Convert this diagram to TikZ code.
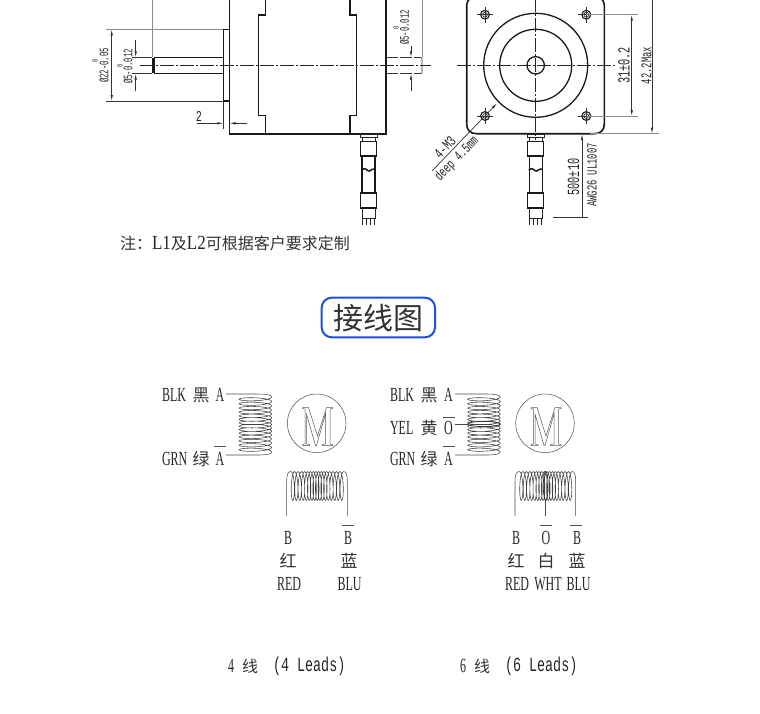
\documentclass[tikz,border=0pt]{standalone}
\usepackage{fontspec}
\usepackage{graphicx}
\setmainfont{Liberation Mono}
\newfontfamily\cjk{Noto Sans CJK SC}
\newfontfamily\latserif{Liberation Serif}
\usetikzlibrary{arrows.meta}
\newcommand{\sq}[3]{\scalebox{#1}[1]{\fontsize{#2}{#2}\selectfont #3}}
\newcommand{\lat}[1]{\scalebox{.6}[1]{\fontsize{20}{20}\selectfont\latserif #1}}
\newcommand{\han}[2][17]{{\fontsize{#1}{#1}\selectfont\cjk\color{black!80}#2}}
\newcommand{\hcoil}[6]{% vertical stack of horizontal loops: cx, rx, ytop, ybot, turns, r
  \draw[coilline] plot[smooth,domain=0:#5,samples=#5*16+1,variable=\t]
   ({#1+#2*cos(\t*360)},{#3+(#4-#3)*(\t/#5+.025*sin(360*\t/#5))+#6*sin(\t*360)});}
\newcommand{\vcoil}[6]{% row of vertical loops: cy, ry, xleft, xright, turns, r
  \draw[coilline] plot[smooth,domain=0:#5,samples=#5*16+1,variable=\t]
   ({#3+(#4-#3)*(\t/#5+.025*sin(360*\t/#5))+#6*sin(\t*360)},{#1-#2*cos(\t*360)});}
\newcommand{\motorM}[2]{% cx cy
  \begin{scope}[shift={(#1,#2)}]
  \draw[mline] (-15,-16.5) -- (-9,-16.5) -- (0,12) -- (9,-16.5) -- (15,-16.5) -- (15,-15.5) -- (12.5,-15) -- (12.5,20) -- (15,20.5) -- (15,21.5) -- (4.5,21.5) -- (4.5,20.5) -- (8,20) -- (8,-10) -- (-1,21.5) -- (-2,21.5) -- (-11,-10) -- (-11,20) -- (-8,20.5) -- (-8,21.5) -- (-15,21.5) -- (-15,20.5) -- (-12.5,20) -- (-12.5,-15) -- (-15,-15.5) -- cycle;
  \end{scope}}
\newcommand{\cable}[1]{% cx
  \begin{scope}[shift={(#1,0)}]
  \draw[thin1] (-8.5,134.5) rectangle (8.5,137.5);
  \draw[thin1] (-6.5,137.5) -- (-6.5,141.7) (6.5,137.5) -- (6.5,141.7);
  \draw[body] (-8,141.7) rectangle (8,156);
  \draw[body] (-6.5,156) -- (-6.5,193) (6.5,156) -- (6.5,193);
  \draw[body,line width=1.5pt] (-7,170) .. controls (-3,166) and (-1,172) .. (1,171) .. controls (3,170) and (5,168) .. (7,169);
  \draw[body] (-8,193) rectangle (8,208);
  \draw[thin1] (-6.5,208) -- (-6.5,218) -- (6.5,218) -- (6.5,208);
  \foreach \d in {-6,-2,2,6} \draw[thin1] (\d,218) -- (\d,224.5);
  \end{scope}}
\tikzset{
 body/.style={line width=1.3pt,black!90},
 outline/.style={line width=1.6pt,black!90},
 thin1/.style={line width=1pt,black!85},
 dim/.style={line width=.7pt,black!80},
 ext/.style={line width=.9pt,black!45},
 center/.style={line width=.7pt,black!85,dash pattern=on 14pt off 2pt on 2pt off 2pt},
 dimarrow/.style={dim,{Latex[length=6pt,width=2.5pt]}-{Latex[length=6pt,width=2.5pt]}},
 tip/.style={-{Latex[length=6pt,width=2.5pt]}},
 coilline/.style={line width=.55pt,black!75},
 mline/.style={line width=.5pt,black!65,line join=miter},
 lead/.style={line width=.55pt,black!70},
 label/.style={inner sep=0pt,outer sep=0pt,black!85},
}
\begin{document}
\begin{tikzpicture}[x=1pt,y=-1pt]
\useasboundingbox (0,0) rectangle (760,713);
\begin{scope}
\clip (0,0) rectangle (760,713);
% ---- side view
\draw[ext] (152,0) -- (152,57.3) (422,0) -- (422,57.3);
\draw[outline] (229.5,-2) -- (229.5,133.7) -- (385.7,133.7) -- (385.7,-2);
\draw[body] (265.7,-2) -- (265.7,15) -- (258.3,15) -- (258.3,115.7) -- (265.7,115.7) -- (265.7,133.7);
\draw[body] (350,-2) -- (350,15) -- (356.7,15) -- (356.7,115.7) -- (350,115.7) -- (350,133.7);
\draw[body] (223.3,29.3) rectangle (229.5,101);
\draw[body] (223.3,57.3) -- (154,57.3) (223.3,73.7) -- (154,73.7);
\draw[body,line width=2.6pt] (153.5,58) -- (153.5,73);
\draw[dim,dash pattern=on 12pt off 2pt] (385.7,57.3) -- (420,57.3) (385.7,73.7) -- (420,73.7);
\draw[dim] (420,57.3) .. controls (422,57.3) and (422,58) .. (422,60) -- (422,71) .. controls (422,73) and (422,73.7) .. (420,73.7);
\draw[center] (140,65.3) -- (430.7,65.3);
\draw[ext] (105.7,29.3) -- (223.3,29.3);
\draw[dim] (105.7,101) -- (223.3,101);
\draw[dimarrow] (111.7,29.3) -- (111.7,101);
\draw[dim] (132,57.3) -- (152,57.3) (132,73.7) -- (152,73.7);
\draw[dim,tip] (135.7,40) -- (135.7,57.3);
\draw[dim,tip] (135.7,90.7) -- (135.7,73.7);
\draw[dim,tip] (411,46) -- (411,57.3);
\draw[dim,tip] (411,90.7) -- (411,73.7);
\draw[dim] (223.3,101) -- (223.3,129);
\draw[dim,tip] (197,123.3) -- (223.3,123.3);
\draw[dim,tip] (247,123.3) -- (229.5,123.3);
\node[label,rotate=90] (d22) at (104,65.5) {\sq{.56}{13}{Ø22-0.05}};
\node[label,rotate=90] (d22z) at (95,61) {\sq{.67}{8}{0}};
\node[label,rotate=90] (d5a) at (128,66.5) {\sq{.56}{13}{Ø5-0.012}};
\node[label,rotate=90] (d5az) at (120,66) {\sq{.67}{8}{0}};
\node[label,rotate=90] (d5b) at (404.5,27.5) {\sq{.56}{13}{Ø5-0.012}};
\node[label,rotate=90] (d5bz) at (396,28) {\sq{.67}{8}{0}};
\node[label] (two) at (199,116) {\sq{.67}{15}{2}};
\cable{368.5}
% ---- front view
\draw[outline] (466.7,123.7) .. controls (466.7,130) and (470,133.7) .. (476.7,133.7) -- (594.3,133.7) .. controls (601,133.7) and (604.3,130) .. (604.3,123.7) -- (604.3,5) .. controls (604.3,2.5) and (603,0.5) .. (601,-2);
\draw[outline] (466.7,123.7) -- (466.7,5) .. controls (466.7,2.5) and (468,0.5) .. (470,-2);
\draw[body] (535.7,65.3) circle[radius=52];
\draw[body] (535.7,65.3) circle[radius=36];
\draw[body] (535.7,65.3) circle[radius=8.7];
\foreach \hx/\hy in {485/14.7,586.3/14.7,485/116,586.3/116}{
  \draw[line width=1.2pt,black!85] (\hx,\hy) circle[radius=4.4];
  \draw[dim] (\hx,\hy) circle[radius=2.4];
  \draw[dim] (\hx-8,\hy) -- (\hx+8,\hy);
  \draw[dim] (\hx,\hy-8) -- (\hx,\hy+8);
}
\draw[center] (457,65.3) -- (615,65.3);
\draw[center] (535.7,-2) -- (535.7,140);
\draw[ext] (586.3,14.7) -- (637.7,14.7) (586.3,116) -- (637.7,116) (590,133.7) -- (659,133.7);
\draw[dimarrow] (631.7,14.7) -- (631.7,116);
\draw[dim,tip] (652,-2) -- (652,133.7);
\node[label,rotate=90] (d31) at (624,65.5) {\sq{.6}{17}{31±0.2}};
\node[label,rotate=90] (d42) at (646.5,65.5) {\sq{.59}{15}{42.2Max}};
\draw[dim,tip] (432,171) -- (497,103.3);
\node[label,rotate=46] (m3) at (445,147.5) {\sq{.67}{15}{4-M3}};
\node[label,rotate=46] (deep) at (457,159) {\sq{.67}{14}{deep 4.5mm}};
\cable{535.7}
\draw[dim,tip] (582,217) -- (582,134);
\draw[dim] (552.7,217) -- (588,217);
\node[label,rotate=90] (d500) at (573.5,177) {\sq{.6}{17}{500±10}};
\node[label,rotate=90] (awg) at (592,175) {\sq{.63}{14}{AWG26 UL1007}};
% ---- note
\node[label,anchor=west] (note) at (120,243) {\han[16]{注：}\sq{.85}{20}{\latserif L1}\han[16]{及}\sq{.85}{20}{\latserif L2}\han[16]{可根据客户要求定制}};
% ---- title
\node[draw=none,label] (title) at (378.5,318) {\han[30]{接线图}};
\draw[line width=2pt,color={rgb,255:red,26;green,80;blue,225},rounded corners=10pt] (321.7,297.7) rectangle (435,337.3);
% ---- 4-lead
\node[label,anchor=west] (blkA) at (162,395) {\lat{BLK}};
\node[label] (blkB) at (201,395) {\han{黑}};
\node[label] (blkC) at (220,395) {\lat{A}};
\node[label,anchor=west] (grnA) at (162,459) {\lat{GRN}};
\node[label] (grnB) at (201,459) {\han{绿}};
\node[label] (grnC) at (220,459) {\lat{A}};
\draw[lead] (214,446.7) -- (226,446.7);
\hcoil{255.4}{16.3}{397}{452}{14}{2.6}
\coordinate (t1) at (226,394);
\coordinate (u1) at (226,455);
\draw[lead] (t1) -- (258,394) .. controls (266,394) and (271.7,395) .. (271.7,397);
\draw[lead] (u1) -- (258,455) .. controls (266,455) and (271.7,454) .. (271.7,452);
\node[draw,circle,line width=.5pt,black!70,minimum size=58.6pt,inner sep=0pt] (m1) at (316.7,423.3) {};
\motorM{317.5}{424}
\vcoil{486}{14.5}{291}{343.5}{17}{2.4}
\coordinate (l1) at (286.7,516);
\coordinate (r1) at (347.3,516);
\draw[lead] (l1) -- (286.7,482) .. controls (286.7,474) and (288,471.5) .. (291,471.5);
\draw[lead] (r1) -- (347.3,482) .. controls (347.3,474) and (346,471.5) .. (343.5,471.5);
\node[label] (b1) at (288,538) {\lat{B}};
\node[label] (b2) at (348,538) {\lat{B}};
\draw[lead] (342,525.7) -- (354,525.7);
\node[label] (hb1) at (288,561) {\han{红}};
\node[label] (hb2) at (349,561) {\han{蓝}};
\node[label] (rb1) at (289,584) {\lat{RED}};
\node[label] (rb2) at (349.5,584) {\lat{BLU}};
% ---- 6-lead
\node[label,anchor=west] (sblkA) at (390,395) {\lat{BLK}};
\node[label] (sblkB) at (429,395) {\han{黑}};
\node[label] (sblkC) at (448.5,395) {\lat{A}};
\node[label,anchor=west] (syelA) at (390,428) {\lat{YEL}};
\node[label] (syelB) at (429,428) {\han{黄}};
\node[label] (syelC) at (448.5,428) {\lat{O}};
\draw[lead] (443,417.5) -- (455,417.5);
\node[label,anchor=west] (sgrnA) at (390,459) {\lat{GRN}};
\node[label] (sgrnB) at (429,459) {\han{绿}};
\node[label] (sgrnC) at (448.5,459) {\lat{A}};
\draw[lead] (443,446.7) -- (455,446.7);
\hcoil{484}{16.3}{397}{452}{14}{2.6}
\coordinate (t2) at (455,394);
\coordinate (c2) at (455,424);
\coordinate (u2) at (455,455);
\draw[lead] (t2) -- (487,394) .. controls (495,394) and (500.3,395) .. (500.3,397);
\draw[lead] (u2) -- (487,455) .. controls (495,455) and (500.3,454) .. (500.3,452);
\draw[lead] (c2) -- (468,424);
\draw[line width=.8pt,black!80] (484,424) ellipse[x radius=16.3,y radius=2.6];
\node[draw,circle,line width=.5pt,black!70,minimum size=58.6pt,inner sep=0pt] (m2) at (545,423.3) {};
\motorM{546}{424}
\vcoil{486}{14.5}{519.5}{572}{17}{2.4}
\coordinate (l2) at (515,516);
\coordinate (r2) at (575.7,516);
\coordinate (c3) at (545.7,516);
\draw[lead] (l2) -- (515,482) .. controls (515,474) and (516.5,471.5) .. (519.5,471.5);
\draw[lead] (r2) -- (575.7,482) .. controls (575.7,474) and (574.5,471.5) .. (572,471.5);
\draw[lead] (c3) -- (545.7,500);
\draw[line width=.7pt,black!80] (545.7,486) ellipse[x radius=2.4,y radius=14.5];
\node[label] (sb1) at (516,538) {\lat{B}};
\node[label] (sb2) at (546,538) {\lat{O}};
\node[label] (sb3) at (577,538) {\lat{B}};
\draw[lead] (540,525.7) -- (552,525.7) (570,525.7) -- (582,525.7);
\node[label] (shb1) at (516,561) {\han{红}};
\node[label] (shb2) at (546,561) {\han{白}};
\node[label] (shb3) at (577,561) {\han{蓝}};
\node[label] (srb1) at (517,584) {\lat{RED}};
\node[label] (srb2) at (548,584) {\lat{WHT}};
\node[label] (srb3) at (578.5,584) {\lat{BLU}};
% ---- captions
\node[label] (cap4a) at (231,666) {\lat{4}};
\node[label] (cap4b) at (250,666) {\han[16]{线}};
\node[label,anchor=west] (cap4c) at (273,666) {\sq{.67}{20}{(4 Leads)}};
\node[label] (cap6a) at (463,666) {\lat{6}};
\node[label] (cap6b) at (482,666) {\han[16]{线}};
\node[label,anchor=west] (cap6c) at (505,666) {\sq{.67}{20}{(6 Leads)}};
\end{scope}
\end{tikzpicture}
\end{document}
